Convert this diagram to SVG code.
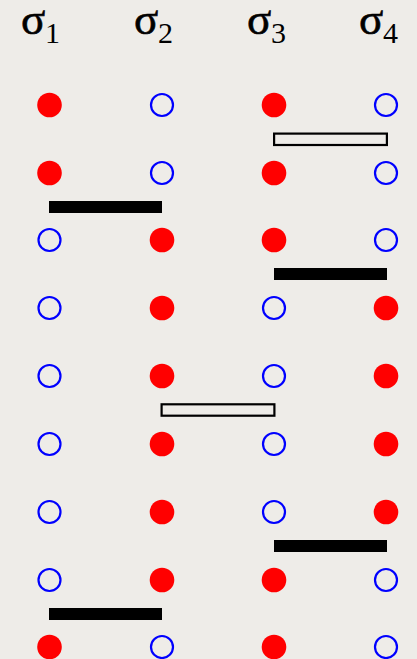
<svg xmlns="http://www.w3.org/2000/svg" width="417" height="659" viewBox="0 0 417 659">
<style>
.s{font-family:"Liberation Serif","Times New Roman",serif;fill:#000}
.g{font-size:45px;stroke:#000;stroke-width:0.6}
.d{font-size:30px}
.f{fill:#ff0000}
.o{fill:none;stroke:#0000ff;stroke-width:2.2}
.bk{fill:#000}
.op{fill:none;stroke:#000;stroke-width:2.2}
</style>
<rect width="417" height="659" fill="#eeece8"/>
<g id="headers">
<text class="s g" x="21" y="33.5">σ</text><text class="s d" x="45" y="43">1</text>
<text class="s g" x="134" y="33.5">σ</text><text class="s d" x="158" y="43">2</text>
<text class="s g" x="247" y="33.5">σ</text><text class="s d" x="271" y="43">3</text>
<text class="s g" x="359" y="33.5">σ</text><text class="s d" x="383" y="43">4</text>
</g>
<g id="connectors">
<rect class="op" x="274.1" y="133.6" width="112.8" height="11.4"/>
<rect class="bk" x="49" y="201" width="113" height="12"/>
<rect class="bk" x="274" y="268" width="113" height="12"/>
<rect class="op" x="161.6" y="404.3" width="112.8" height="11.4"/>
<rect class="bk" x="274" y="540" width="113" height="12"/>
<rect class="bk" x="49" y="608" width="113" height="12"/>
</g>
<g id="row1"><circle class="f" cx="49.5" cy="105" r="12.3"/><circle class="o" cx="162" cy="105" r="11"/><circle class="f" cx="274" cy="105" r="12.3"/><circle class="o" cx="386" cy="105" r="11"/></g>
<g id="row2"><circle class="f" cx="49.5" cy="173" r="12.3"/><circle class="o" cx="162" cy="173" r="11"/><circle class="f" cx="274" cy="173" r="12.3"/><circle class="o" cx="386" cy="173" r="11"/></g>
<g id="row3"><circle class="o" cx="49.5" cy="240" r="11"/><circle class="f" cx="162" cy="240" r="12.3"/><circle class="f" cx="274" cy="240" r="12.3"/><circle class="o" cx="386" cy="240" r="11"/></g>
<g id="row4"><circle class="o" cx="49.5" cy="308" r="11"/><circle class="f" cx="162" cy="308" r="12.3"/><circle class="o" cx="274" cy="308" r="11"/><circle class="f" cx="386" cy="308" r="12.3"/></g>
<g id="row5"><circle class="o" cx="49.5" cy="376" r="11"/><circle class="f" cx="162" cy="376" r="12.3"/><circle class="o" cx="274" cy="376" r="11"/><circle class="f" cx="386" cy="376" r="12.3"/></g>
<g id="row6"><circle class="o" cx="49.5" cy="444" r="11"/><circle class="f" cx="162" cy="444" r="12.3"/><circle class="o" cx="274" cy="444" r="11"/><circle class="f" cx="386" cy="444" r="12.3"/></g>
<g id="row7"><circle class="o" cx="49.5" cy="512" r="11"/><circle class="f" cx="162" cy="512" r="12.3"/><circle class="o" cx="274" cy="512" r="11"/><circle class="f" cx="386" cy="512" r="12.3"/></g>
<g id="row8"><circle class="o" cx="49.5" cy="580" r="11"/><circle class="f" cx="162" cy="580" r="12.3"/><circle class="f" cx="274" cy="580" r="12.3"/><circle class="o" cx="386" cy="580" r="11"/></g>
<g id="row9"><circle class="f" cx="49.5" cy="647" r="12.3"/><circle class="o" cx="162" cy="647" r="11"/><circle class="f" cx="274" cy="647" r="12.3"/><circle class="o" cx="386" cy="647" r="11"/></g>
</svg>
